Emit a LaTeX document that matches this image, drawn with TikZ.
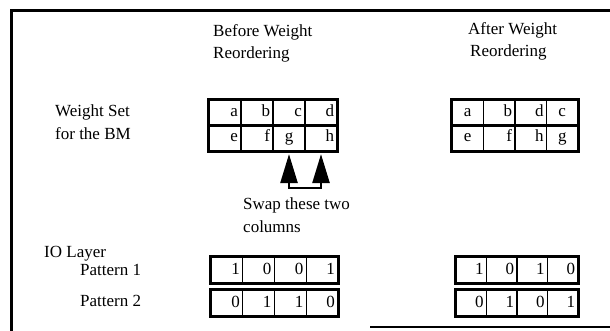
\documentclass[tikz,border=0pt]{standalone}
\usepackage{fontspec}
\setmainfont{Liberation Serif}
\usetikzlibrary{arrows.meta}
\begin{document}
\begin{tikzpicture}[x=1pt,y=-1pt,
  every node/.style={font=\fontsize{17}{20}\selectfont},
  txt/.style={anchor=west, inner sep=0pt, align=left, execute at begin node=\strut},
  cellbase/.style={draw, line width=1.2pt, inner sep=3pt, execute at begin node=\strut},
  bcell/.style={cellbase, minimum width=32pt, text width=26pt, minimum height=24.5pt, align=right},
  acell/.style={cellbase, minimum width=31.5pt, text width=25.5pt, minimum height=24.5pt, align=right},
  pbcell/.style={cellbase, minimum width=31.75pt, text width=25.75pt, minimum height=22pt, align=right},
  pacell/.style={cellbase, minimum width=30.5pt, text width=24.5pt, minimum height=22pt, align=right},
  ctr/.style={align=center},
  outer/.style={line width=3pt},
  frame/.style={line width=3pt},
  swap/.style={line width=2.5pt, {Triangle[length=29pt,width=17pt]}-{Triangle[length=29pt,width=17pt]}, shorten <=3pt, shorten >=3pt}
]
\useasboundingbox (0,0) rectangle (610,331);

% frame
\draw[frame] (11,331) -- (11,11) -- (610,11);
\draw[line width=2.5pt] (370,327) -- (610,327);

% titles
\node[txt] (t1) at (213,33) {Before Weight};
\node[txt] (t2) at (213,55) {Reordering};
\node[txt] (t3) at (468,31) {After Weight};
\node[txt] (t4) at (470,53) {Reordering};
\node[txt] (w1) at (55,113) {Weight Set};
\node[txt] (w2) at (55,136) {for the BM};
\node[txt] (s1) at (243,206) {Swap these two};
\node[txt] (s2) at (243,229) {columns};
\node[txt] (io) at (44,253) {IO Layer};
\node[txt] (pt1) at (80,271) {Pattern 1};
\node[txt] (pt2) at (80,302) {Pattern 2};

% before weight grid
\node[bcell] (ba) at (225,113) {a};
\node[bcell] (bb) at (257,113) {b};
\node[bcell] (bc) at (289,113) {c};
\node[bcell] (bd) at (321,113) {d};
\node[bcell] (be) at (225,137.5) {e};
\node[bcell] (bf) at (257,137.5) {f};
\node[bcell,ctr] (bg) at (289,137.5) {g};
\node[bcell] (bh) at (321,137.5) {h};
\draw[outer] (ba.north west) rectangle (bh.south east);

% after weight grid
\node[acell,ctr] (aa) at (467.75,113) {a};
\node[acell] (ab) at (499.25,113) {b};
\node[acell] (ad) at (530.75,113) {d};
\node[acell,ctr] (ac) at (562.25,113) {c};
\node[acell,ctr] (ae) at (467.75,137.5) {e};
\node[acell] (af) at (499.25,137.5) {f};
\node[acell] (ah) at (530.75,137.5) {h};
\node[acell,ctr] (ag) at (562.25,137.5) {g};
\draw[outer] (aa.north west) rectangle (ag.south east);

% swap arrows
\draw[swap] (bg.south) -- ([yshift=-37pt]bg.south) -| (bh.south);

% patterns before
\node[pbcell] (p1b1) at (226.9,270) {1};
\node[pbcell] (p1b2) at (258.6,270) {0};
\node[pbcell] (p1b3) at (290.4,270) {0};
\node[pbcell] (p1b4) at (322.1,270) {1};
\draw[outer] (p1b1.north west) rectangle (p1b4.south east);
\node[pbcell] (p2b1) at (226.9,303) {0};
\node[pbcell] (p2b2) at (258.6,303) {1};
\node[pbcell] (p2b3) at (290.4,303) {1};
\node[pbcell] (p2b4) at (322.1,303) {0};
\draw[outer] (p2b1.north west) rectangle (p2b4.south east);

% patterns after
\node[pacell] (p1a1) at (471.25,270) {1};
\node[pacell] (p1a2) at (501.75,270) {0};
\node[pacell] (p1a3) at (532.25,270) {1};
\node[pacell] (p1a4) at (562.75,270) {0};
\draw[outer] (p1a1.north west) rectangle (p1a4.south east);
\node[pacell] (p2a1) at (471.25,303) {0};
\node[pacell] (p2a2) at (501.75,303) {1};
\node[pacell] (p2a3) at (532.25,303) {0};
\node[pacell] (p2a4) at (562.75,303) {1};
\draw[outer] (p2a1.north west) rectangle (p2a4.south east);
\end{tikzpicture}
\end{document}
